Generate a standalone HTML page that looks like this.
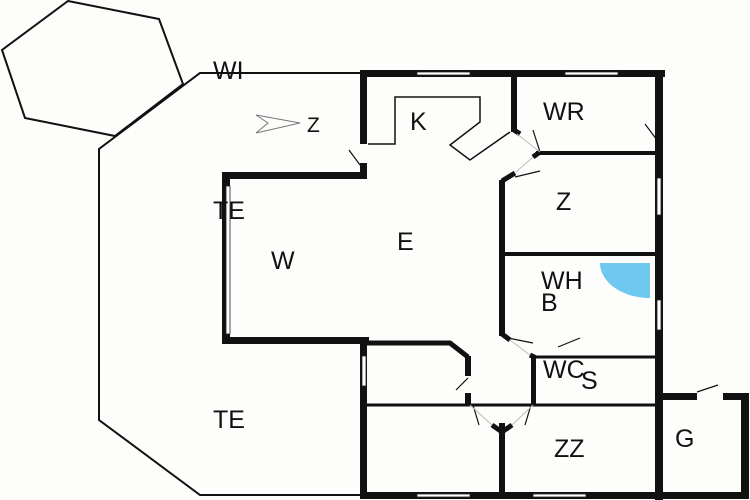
<!DOCTYPE html>
<html><head><style>
html,body{margin:0;padding:0;background:#fdfdfb;}
svg{display:block;}
text{font-family:"Liberation Sans",sans-serif;font-size:25px;fill:#111;}
</style></head><body>
<svg width="750" height="500" viewBox="0 0 750 500" xmlns="http://www.w3.org/2000/svg">
<rect width="750" height="500" fill="#fdfdfb"/>
<polygon points="68,1 159,19 183,84 115,136 25,118 2,50" fill="none" stroke="#111" stroke-width="2"/>
<polyline points="362,73 200,73 99,149 99,420 200,495 362,495" fill="none" stroke="#111" stroke-width="2"/>
<g fill="#111">
<rect x="360" y="70" width="305" height="7"/>
<rect x="360" y="70" width="7" height="74"/>
<rect x="360" y="163" width="7" height="16"/>
<rect x="222" y="172" width="145" height="7"/>
<rect x="222" y="172" width="8" height="172"/>
<rect x="222" y="337" width="147" height="7"/>
<rect x="360" y="337" width="7" height="160"/>
<rect x="360" y="492" width="388" height="7"/>
<rect x="655" y="70" width="8" height="430"/>
<rect x="511" y="73" width="6" height="59"/>
<rect x="741" y="393" width="8" height="106"/>
<rect x="655" y="393" width="42" height="7"/>
<rect x="723" y="393" width="26" height="7"/>
<rect x="499" y="423" width="6" height="72"/>
<rect x="499" y="180" width="6" height="156"/>
<rect x="531" y="355" width="5" height="50"/>
<rect x="465" y="356" width="6" height="20"/>
<rect x="465" y="393" width="6" height="12"/>
</g>
<g stroke="#111" fill="none">
<line x1="536" y1="153" x2="660" y2="153" stroke-width="4"/>
<line x1="502" y1="254" x2="660" y2="254" stroke-width="4"/>
<line x1="533" y1="357" x2="660" y2="357" stroke-width="3"/>
<line x1="366" y1="405" x2="660" y2="405" stroke-width="3"/>
<polyline points="366,343 450,343 468,357" stroke-width="5"/>
<line x1="502" y1="181" x2="515" y2="173" stroke-width="5"/>
<line x1="502" y1="334" x2="510" y2="340" stroke-width="5"/>
<line x1="530" y1="355" x2="536" y2="358" stroke-width="5"/>
<line x1="514" y1="130" x2="520" y2="134" stroke-width="5"/>
<line x1="533" y1="157" x2="540" y2="152" stroke-width="5"/>
<polyline points="492,425 502,432 512,425" stroke-width="5"/>
<polyline points="368,144 395,144 395,97 480,97 480,122 450,145 470,160 510,132" stroke-width="1.5"/>
<g stroke-width="1.2">
<line x1="349" y1="150" x2="360" y2="165"/>
<line x1="533" y1="130" x2="540" y2="152"/>
<line x1="515" y1="177" x2="540" y2="171"/>
<line x1="645" y1="124" x2="657" y2="140"/>
<line x1="508" y1="338" x2="533" y2="343"/>
<line x1="558" y1="347" x2="580" y2="338"/>
<line x1="456" y1="390" x2="468" y2="378"/>
<line x1="473" y1="405" x2="479" y2="425"/>
<line x1="531" y1="405" x2="525" y2="425"/>
<line x1="697" y1="392" x2="718" y2="385"/>
</g>
<g stroke="#bbb" stroke-width="1">
<line x1="517" y1="134" x2="540" y2="152"/>
<line x1="516" y1="172" x2="533" y2="157"/>
<line x1="510" y1="340" x2="530" y2="355"/>
<line x1="470" y1="405" x2="492" y2="425"/>
<line x1="533" y1="405" x2="512" y2="425"/>
</g>
</g>
<g fill="#fff" stroke="#222" stroke-width="0.8">
<rect x="417" y="72" width="53" height="3"/>
<rect x="565" y="72" width="53" height="3"/>
<rect x="417" y="494" width="53" height="3"/>
<rect x="533" y="494" width="53" height="3"/>
<rect x="226" y="186" width="4" height="148"/>
<rect x="362" y="356" width="4" height="30"/>
<rect x="657" y="178" width="4" height="37"/>
<rect x="657" y="300" width="4" height="30"/>
</g>
<path d="M600,263 L650,263 L650,298 A50,35 0 0 1 600,263 Z" fill="#6ec8f0"/>
<polygon points="256,115 300,123 256,133 268,123" fill="none" stroke="#777" stroke-width="1"/>
<text x="213" y="79">WI</text>
<text x="307" y="132" style="font-size:21px">Z</text>
<text x="410" y="130">K</text>
<text x="543" y="120">WR</text>
<text x="556" y="210">Z</text>
<text x="397" y="250">E</text>
<text x="213" y="219">TE</text>
<text x="271" y="269">W</text>
<text x="541" y="289">WH</text>
<text x="541" y="311">B</text>
<text x="543" y="378">WC</text>
<text x="581" y="389">S</text>
<text x="213" y="428">TE</text>
<text x="554" y="457">ZZ</text>
<text x="675" y="447">G</text>
</svg>
</body></html>
